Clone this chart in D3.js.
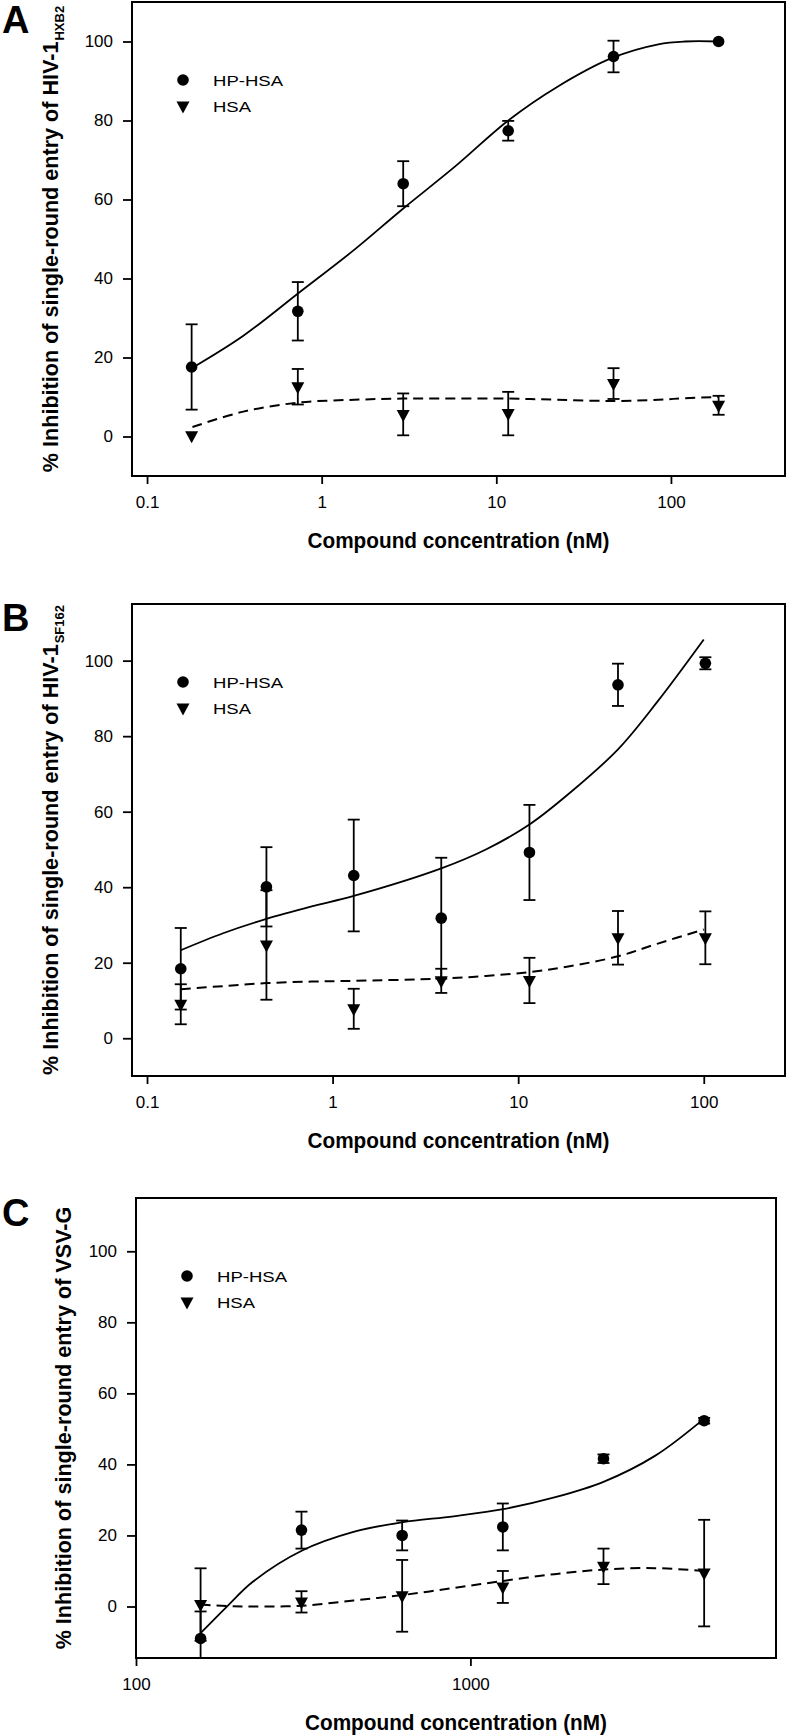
<!DOCTYPE html>
<html><head><meta charset="utf-8">
<script src="https://cdn.jsdelivr.net/npm/d3@7"></script>
<style>body{margin:0;background:#fff} svg{display:block}</style>
</head><body><svg id="c" width="792" height="1736"></svg>
<script>
// ---------- DATA ----------
// Panel A (HIV-1 HXB2)
const concA = [0.18, 0.73, 2.93, 11.7, 46.9, 187.5];
const hpA = [17.6, 31.7, 64.0, 77.4, 96.2, 100.0];
const hpAErr = [10.8, 7.4, 5.7, 2.5, 4.0, 0];
const hsaA = [0.2, 12.6, 5.6, 5.8, 13.4, 7.9];
const hsaAErr = [0, 4.5, 5.3, 5.5, 3.9, 2.4];
const fitConcA = [0.182, 0.356, 0.741, 1.54, 2.91, 5.86, 11.7, 22.3, 46.4, 84.7, 120, 187.5];
const fitHpA = [17.4, 25.5, 36.4, 47.3, 57.6, 68.5, 80.0, 88.5, 95.9, 99.3, 100, 100];
const fitHsaA = [2.4, 6.3, 8.6, 9.3, 9.6, 9.6, 9.6, 9.3, 9.0, 9.3, 9.7, 10.0];

// Panel B (HIV-1 SF162)
const concB = [0.152, 0.44, 1.3, 3.85, 11.5, 34.5, 102];
const hpB = [18.4, 40.1, 43.1, 31.8, 49.2, 93.6, 99.3];
const hpBErr = [10.8, 10.5, 14.8, 16.0, 12.6, 5.6, 1.6];
const hsaB = [9.0, 24.7, 7.8, 15.2, 15.3, 26.6, 26.6];
const hsaBErr = [5.3, 14.5, 5.3, 3.2, 6.0, 7.1, 7.0];
const fitConcB = [0.152, 0.257, 0.44, 0.77, 1.3, 3.85, 6.7, 11.5, 18.6, 34.5, 56, 100];
const fitHpB = [23.3, 27.8, 31.6, 34.9, 37.7, 45.0, 50.0, 56.6, 64.6, 76.5, 89.0, 105.6];
const fitHsaB = [13.0, 13.8, 14.6, 15.0, 15.2, 15.8, 16.5, 17.5, 19.0, 21.7, 25.0, 28.8];

// Panel C (VSV-G)
const concC = [156, 312.5, 625, 1250, 2500, 5000];
const hpC = [-9.0, 21.5, 20.0, 22.4, 41.6, 52.3];
const hpCErr = [7.6, 5.2, 4.2, 6.6, 1.2, 0.8];
const hsaC = [0.55, 1.3, 3.0, 5.5, 11.3, 9.4];
const hsaCErr = [10.2, 3.0, 10.1, 4.5, 5.0, 15.0];
const fitConcC = [156, 188, 223, 313, 447, 624, 891, 1252, 1783, 2500, 3563, 5000];
const fitHpC = [-7.5, 0.2, 6.9, 15.7, 21.0, 23.7, 25.4, 27.4, 30.7, 35.1, 42.4, 52.9];
const fitHsaC = [0.55, 0.1, 0.0, 0.2, 1.7, 3.2, 5.2, 7.2, 9.1, 10.4, 10.8, 10.0];

// Tick labels
const xTicksAB = [0.1, 1, 10, 100];
const xTicksC = [100, 1000];
const yTicks = [0, 20, 40, 60, 80, 100];
const seriesNames = ["HP-HSA", "HSA"];
const xTitle = "Compound concentration (nM)";

// ---------- LAYOUT ----------
const panels = [
  {letter:"A", letterY:33, x0:132, x1:785, y0:2, y1:476, xd:[0.082,450], yd:[-10,110], xt:xTicksAB,
   conc:concA, hp:hpA, hpE:hpAErr, hsa:hsaA, hsaE:hsaAErr, fx:fitConcA, fhp:fitHpA, fhsa:fitHsaA,
   title:"% Inhibition of single-round entry of HIV-1", sub:"HXB2", tx:58},
  {letter:"B", letterY:631, x0:132, x1:785, y0:604, y1:1076, xd:[0.083,274], yd:[-10,115], xt:xTicksAB,
   conc:concB, hp:hpB, hpE:hpBErr, hsa:hsaB, hsaE:hsaBErr, fx:fitConcB, fhp:fitHpB, fhsa:fitHsaB,
   title:"% Inhibition of single-round entry of HIV-1", sub:"SF162", tx:58},
  {letter:"C", letterY:1226, x0:136, x1:776, y0:1198, y1:1658, xd:[100,8200], yd:[-14.5,115], xt:xTicksC,
   conc:concC, hp:hpC, hpE:hpCErr, hsa:hsaC, hsaE:hsaCErr, fx:fitConcC, fhp:fitHpC, fhsa:fitHsaC,
   title:"% Inhibition of single-round entry of VSV-G", sub:"", tx:71}
];

const svg = d3.select("#c");
const tri = "M-6.5,-4.5L6.5,-4.5L0,7.5Z";
const narrow = "'Liberation Sans Narrow','Arial Narrow','Liberation Sans',Arial,sans-serif";
const sans = "'Liberation Sans',Arial,sans-serif";

panels.forEach((p, i) => {
  const x = d3.scaleLog().domain(p.xd).range([p.x0, p.x1]);
  const y = d3.scaleLinear().domain(p.yd).range([p.y1, p.y0]);
  const g = svg.append("g");

  // panel letter
  g.append("text").attr("x", 2).attr("y", p.letterY).text(p.letter)
    .attr("font-family", narrow).attr("font-weight", "bold").attr("font-size", 38);

  // clip
  const cid = "clip" + i;
  svg.append("clipPath").attr("id", cid).append("rect")
    .attr("x", p.x0).attr("y", p.y0).attr("width", p.x1 - p.x0).attr("height", p.y1 - p.y0);

  // axes
  const ya = g.append("g").attr("transform", `translate(${p.x0},0)`)
    .call(d3.axisLeft(y).tickValues(yTicks).tickSize(9).tickPadding(10).tickFormat(d3.format("d")));
  const xa = g.append("g").attr("transform", `translate(0,${p.y1})`)
    .call(d3.axisBottom(x).tickValues(p.xt).tickSize(8).tickPadding(12).tickFormat(d => String(d)));
  [ya, xa].forEach(a => {
    a.select(".domain").remove();
    a.selectAll(".tick line").attr("stroke", "#000").attr("stroke-width", 1.8);
    a.selectAll(".tick text").attr("font-family", narrow).attr("font-size", 17).attr("fill", "#000");
  });

  // box
  g.append("rect").attr("x", p.x0).attr("y", p.y0).attr("width", p.x1 - p.x0).attr("height", p.y1 - p.y0)
    .attr("fill", "none").attr("stroke", "#000").attr("stroke-width", 2);

  // axis titles
  g.append("text").attr("x", (p.x0 + p.x1) / 2).attr("y", p.y1 + 72).attr("text-anchor", "middle")
    .attr("font-family", sans).attr("font-weight", "bold").attr("font-size", 22)
    .attr("textLength", 302).attr("lengthAdjust", "spacingAndGlyphs").text(xTitle);
  const yt = g.append("text").attr("transform", `translate(${p.tx},${(p.y0 + p.y1) / 2}) rotate(-90)`)
    .attr("text-anchor", "middle")
    .attr("font-family", sans).attr("font-weight", "bold").attr("font-size", 21.6);
  yt.append("tspan").text(p.title);
  if (p.sub) yt.append("tspan").attr("font-size", 13).attr("dy", 6).attr("dx", 1).text(p.sub);

  // data layer
  const d = g.append("g").attr("clip-path", `url(#${cid})`);
  const line = d3.line().x(v => x(v[0])).y(v => y(v[1])).curve(d3.curveCatmullRom.alpha(0.5));
  d.append("path").attr("d", line(p.fx.map((c, k) => [c, p.fhp[k]])))
    .attr("fill", "none").attr("stroke", "#000").attr("stroke-width", 1.8);
  d.append("path").attr("d", line(p.fx.map((c, k) => [c, p.fhsa[k]])))
    .attr("fill", "none").attr("stroke", "#000").attr("stroke-width", 2).attr("stroke-dasharray", "10,6");

  const drawSeries = (vals, errs, shape) => {
    vals.forEach((v, k) => {
      const cx = x(p.conc[k]);
      const e = errs[k];
      if (e > 0) {
        const ytop = y(v + e), ybot = y(v - e);
        d.append("line").attr("x1", cx).attr("x2", cx).attr("y1", ytop).attr("y2", ybot)
          .attr("stroke", "#000").attr("stroke-width", 1.8);
        [ytop, ybot].forEach(yy => d.append("line").attr("x1", cx - 6).attr("x2", cx + 6)
          .attr("y1", yy).attr("y2", yy).attr("stroke", "#000").attr("stroke-width", 1.8));
      }
      if (shape === "c") d.append("circle").attr("cx", cx).attr("cy", y(v)).attr("r", 5.8).attr("fill", "#000");
      else d.append("path").attr("d", tri).attr("transform", `translate(${cx},${y(v)})`).attr("fill", "#000");
    });
  };
  drawSeries(p.hsa, p.hsaE, "t");
  drawSeries(p.hp, p.hpE, "c");

  // legend
  const lx = p.x0 + 51, ly = p.y0 + 78;
  g.append("circle").attr("cx", lx).attr("cy", ly).attr("r", 5.8).attr("fill", "#000");
  g.append("path").attr("d", tri).attr("transform", `translate(${lx},${ly + 26})`).attr("fill", "#000");
  g.append("text").attr("x", p.x0 + 81).attr("y", ly + 5.5).text(seriesNames[0])
    .attr("font-family", sans).attr("font-size", 15.5).attr("textLength", 70).attr("lengthAdjust", "spacingAndGlyphs");
  g.append("text").attr("x", p.x0 + 81).attr("y", ly + 31.5).text(seriesNames[1])
    .attr("font-family", sans).attr("font-size", 15.5).attr("textLength", 38).attr("lengthAdjust", "spacingAndGlyphs");
});
</script></body></html>
